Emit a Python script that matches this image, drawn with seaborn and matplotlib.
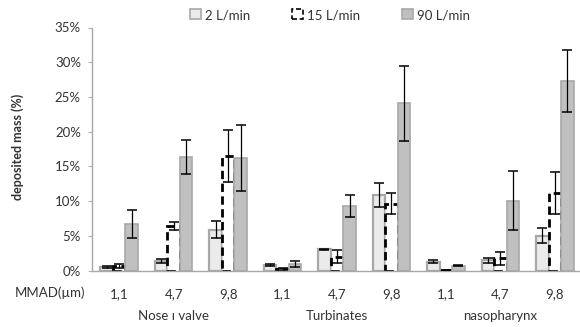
import matplotlib
matplotlib.use("Agg")
import matplotlib.pyplot as plt
import matplotlib.transforms as mtransforms
from matplotlib.patches import Patch
import seaborn as sns
import pandas as pd
import numpy as np

regions = ["Nose ı valve", "Turbinates", "nasopharynx"]
mmad = ["1,1", "4,7", "9,8"]
flows = ["2 L/min", "15 L/min", "90 L/min"]

# deposited mass (%), order: nose-valve 1.1/4.7/9.8, turbinates ..., nasopharynx ...
mean_2 = [0.5, 1.35, 5.9, 0.8, 3.05, 10.9, 1.27, 1.5, 5.0]
err_2 = [0.15, 0.3, 1.2, 0.2, 0.1, 1.7, 0.2, 0.35, 1.1]
mean_15 = [0.65, 6.4, 16.5, 0.26, 2.0, 9.6, 0.05, 1.75, 11.2]
err_15 = [0.35, 0.6, 3.8, 0.1, 0.95, 1.5, 0.0, 0.95, 3.0]
mean_90 = [6.65, 16.35, 16.15, 0.9, 9.3, 24.1, 0.7, 10.06, 27.3]
err_90 = [2.0, 2.45, 4.75, 0.45, 1.6, 5.4, 0.1, 4.25, 4.4]

keys = [f"{r}|{m}" for r in regions for m in mmad]
df = pd.DataFrame({
    "cat": keys * 3,
    "flow": np.repeat(flows, len(keys)),
    "val": mean_2 + mean_15 + mean_90,
    "err": err_2 + err_15 + err_90,
})

sns.set_style("white")
plt.rcParams["font.family"] = ["Lato", "DejaVu Sans"]

fig = plt.figure(figsize=(5.8, 3.27), dpi=100)
ax = fig.add_axes([92 / 580, 56.5 / 327, 490 / 580, 243 / 327])

sns.barplot(data=df, x="cat", y="val", hue="flow", order=keys, hue_order=flows,
            errorbar=None, width=0.69, legend=False, ax=ax)

styles = [
    dict(facecolor="#ebebeb", edgecolor="#a8a8a8", linewidth=1.6, linestyle="-"),
    dict(facecolor="white", edgecolor="black", linewidth=2.0, linestyle=(0, (3, 1.6))),
    dict(facecolor="#c0c0c0", edgecolor="#a8a8a8", linewidth=1.2, linestyle="-"),
]
for cont, st, flow in zip(ax.containers, styles, flows):
    xs = []
    for p in cont.patches:
        p.set_facecolor(st["facecolor"])
        p.set_edgecolor(st["edgecolor"])
        p.set_linewidth(st["linewidth"])
        p.set_linestyle(st["linestyle"])
        xs.append(p.get_x() + p.get_width() / 2)
    sub = df[df["flow"] == flow]
    ax.errorbar(xs, sub["val"], yerr=sub["err"], fmt="none", ecolor="black",
                elinewidth=0.9, capsize=3.5, capthick=1.1, zorder=5)

ax.set_ylim(0, 35)
ax.set_xlim(-0.5, 8.5)
ax.set_yticks(range(0, 36, 5))
ax.set_yticklabels([f"{v}%" for v in range(0, 36, 5)], fontsize=9.5, color="#333333")
ax.set_xticks(range(9))
ax.set_xticklabels(mmad * 3, fontsize=9.5, color="#333333")
ax.set_xticks(np.arange(-0.5, 9, 1), minor=True)
ax.tick_params(axis="x", which="major", length=0, pad=13)
ax.tick_params(axis="x", which="minor", length=4, color="#b0b0b0", direction="out")
ax.tick_params(axis="y", length=3, color="#b0b0b0", pad=5, left=True)
ax.set_xlabel("")
ax.set_ylabel("")
sns.despine(ax=ax)
for s in ["left", "bottom"]:
    ax.spines[s].set_color("#a8a8a8")
    ax.spines[s].set_linewidth(1.0)

fig.text(18 / 580, 1 - 147 / 327, "deposited mass (%)", rotation=90, ha="center",
         va="center", fontsize=9, fontweight="bold", color="#333333")
fig.text(15 / 580, 1 - 293 / 327, "MMAD(µm)", ha="left", va="center",
         fontsize=9.5, color="#333333")

trans = mtransforms.blended_transform_factory(ax.transData, fig.transFigure)
for i, r in enumerate(regions):
    ax.text(3 * i + 1, 1 - 316 / 327, r, transform=trans, ha="center", va="center",
            fontsize=9.5, color="#333333")

handles = [Patch(facecolor=s["facecolor"], edgecolor=s["edgecolor"], linewidth=1.2,
                 linestyle=s["linestyle"])
           for s in styles]
fig.legend(handles, flows, loc="center", bbox_to_anchor=(330 / 580, 1 - 15 / 327),
           ncol=3, frameon=False, fontsize=9.5, handlelength=0.8, handleheight=0.8,
           handletextpad=0.3, columnspacing=3.2, labelcolor="#333333")

fig.savefig("out.png", dpi=100)
